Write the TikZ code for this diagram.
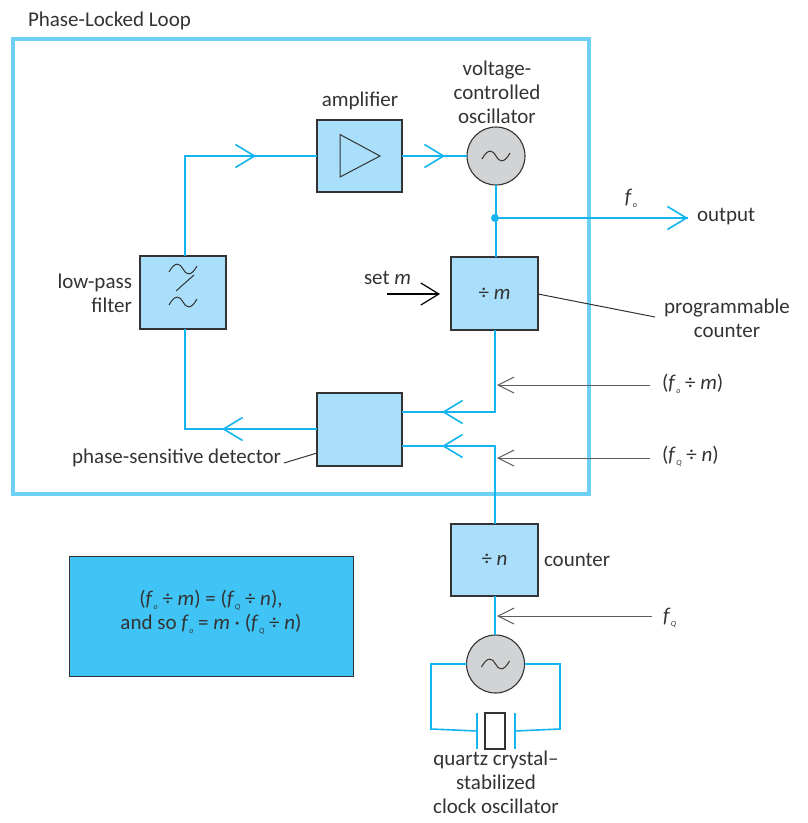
\documentclass[tikz,border=0pt]{standalone}
\usepackage{fontspec}
\setmainfont{Carlito}
\usetikzlibrary{arrows.meta}
\definecolor{wire}{HTML}{14B4EE}
\definecolor{frameblue}{HTML}{6FD0F6}
\definecolor{boxblue}{HTML}{A9DFFB}
\definecolor{infoblue}{HTML}{40C4F5}
\definecolor{disc}{HTML}{D1D3D4}
\definecolor{ink}{HTML}{333333}
\newcommand{\fo}{\textit{f}\kern0.5pt\raisebox{-4pt}{\footnotesize\textit{o}}}
\newcommand{\fQ}{\textit{f}\kern0.5pt\raisebox{-4pt}{\footnotesize\textit{Q}}}
\tikzset{
  x=1pt,y=-1pt,
  every node/.style={font=\fontsize{21}{24}\selectfont,text=ink,inner sep=0pt,outer sep=0pt},
  blockbox/.style={draw=ink,fill=boxblue,line width=1.1pt,anchor=north west},
  osc/.style={circle,draw=ink,fill=disc,line width=1.1pt,minimum size=58pt},
  wireline/.style={draw=wire,line width=1.6pt},
  wirearrow/.style={wireline,-{Straight Barb[length=19pt,width=23pt,line width=1.6pt]}},
  grayline/.style={draw=ink!80,line width=1pt,-{Straight Barb[length=16pt,width=16pt,line width=1pt]}},
  thinline/.style={draw=ink,line width=1pt},
  symline/.style={draw=ink,line width=1pt},
  wave/.pic={\draw[symline] (-14,3) .. controls (-8,-8) and (-3,-6) .. (0,0) .. controls (3,6) and (8,8) .. (14,-3);},
  lbl/.style={align=center}
}
\begin{document}
\begin{tikzpicture}
\useasboundingbox (0,0) rectangle (807,823);
\draw[frameblue,line width=4pt] (13,39) rectangle (589,494);
\node[anchor=west] (title) at (28,21) {Phase-Locked Loop};

% blocks
\node[blockbox,minimum width=85pt,minimum height=72pt] (amp) at (317,120) {};
\node[osc] (vco) at (496,156) {};
\node[blockbox,minimum width=86pt,minimum height=73pt] (lpf) at (140,256) {};
\node[blockbox,minimum width=87pt,minimum height=73pt] (divm) at (451,257) {\hspace*{0pt}};
\node[blockbox,minimum width=85pt,minimum height=73pt] (psd) at (317,393) {};
\node[blockbox,minimum width=87pt,minimum height=72pt] (divn) at (451,524) {};
\node[osc] (clock) at (495.5,664) {};
\draw[draw=ink,fill=infoblue,line width=1pt] (69,556) rectangle (353,676);
\node[draw=ink,line width=1.1pt,fill=white,minimum width=20pt,minimum height=36pt] (xtal) at (495,731) {};
\node at (divm.center) {÷ \textit{m}};
\node at (divn.center) {÷ \textit{n}};

% coordinates
\coordinate (lt) at (185,156);
\coordinate (lb) at (185,429);
\coordinate (tip1) at (256,156);
\coordinate (tip2) at (445,156);
\coordinate (tip3) at (222,429);
\coordinate (tap) at (495,218);
\coordinate (outtip) at (688,218);
\coordinate (cornerm) at (495,412);
\coordinate (cornern) at (495,446);
\coordinate (tip4) at (442,412);
\coordinate (tip5) at (442,446);
\coordinate (pl) at (477,731);
\coordinate (pr) at (515,731);
\coordinate (cl) at (431,664);
\coordinate (cb) at (431,729);
\coordinate (dr) at (560,664);
\coordinate (db) at (560,729);

% wires
\draw[wireline] (lpf.north -| lt) -- (lt) -- (amp.west);
\draw[wirearrow] (lt) -- (tip1);
\draw[wireline] (amp.east) -- (vco.west);
\draw[wirearrow] (amp.east) -- (tip2);
\draw[wireline] (vco.south) -- (divm.north -| vco.south);
\draw[wireline] (tap) -- (outtip);
\draw[wirearrow] (tap) -- (outtip);
\fill[wire] (tap) circle (4pt);
\draw[wireline] (divm.south -| tap) -- (cornerm) -- (psd.east |- cornerm);
\draw[wirearrow] (cornerm) -- (tip4);
\draw[wireline] (divn.north -| tap) -- (cornern) -- (psd.east |- cornern);
\draw[wirearrow] (cornern) -- (tip5);
\draw[wireline] (lpf.south -| lb) -- (lb) -- (psd.west |- lb);
\draw[wirearrow] (psd.west |- lb) -- (tip3);
\draw[wireline] (divn.south -| tap) -- (clock.north -| tap);
\draw[wireline] (clock.west) -- (cl) -- (cb) -- (pl);
\draw[wireline] (clock.east) -- (dr) -- (db) -- (pr);
\draw[wireline] (477,713) -- (477,749);
\draw[wireline] (515,713) -- (515,749);

% amplifier triangle and wave symbols
\draw[symline] (340,134.5) -- (380,156) -- (340,177) -- cycle;
\pic at (vco.center) {wave};
\pic at (clock.center) {wave};
\pic at (183,269) {wave};
\pic at (183,302) {wave};
\draw[symline] (176,291) -- (194,275);

% gray pointers
\coordinate (gm) at (497,385);
\coordinate (gn) at (497,458);
\coordinate (gq) at (497,616);
\node[anchor=west] (lfm) at (662,384) {(\fo{} ÷ \textit{m})};
\node[anchor=west] (lfn) at (662,456) {(\fQ{} ÷ \textit{n})};
\node[anchor=west] (lfq) at (663,618) {\fQ};
\draw[grayline] (lfm.west |- gm) ++(-12,0) -- (gm);
\draw[grayline] (lfn.west |- gn) ++(-12,0) -- (gn);
\draw[grayline] (lfq.west |- gq) ++(-11,0) -- (gq);

% set m
\node[anchor=west] (setm) at (364,278) {set \textit{m}};
\coordinate (setfrom) at (387,294);
\coordinate (settip) at (440,294);
\draw[draw=black,line width=1.2pt,-{Straight Barb[length=18pt,width=22pt,line width=1.2pt]}] (setfrom) -- (settip);

% labels
\node[lbl] (lamp) at (360,101) {amplifier};
\node[lbl,anchor=south] (lvco) at (497,124) {voltage-\\controlled\\oscillator};
\node[anchor=west] (lout) at (697,217) {output};
\node (lfo) at (631,198) {\fo};
\node[align=right,anchor=east] (llpf) at (132,293) {low-pass\\filter};
\node[align=center] (lprog) at (727,318) {programmable\\counter};
\node[anchor=east] (lpsd) at (281,458) {phase-sensitive detector};
\node[anchor=west] (lcnt) at (544,560) {counter};
\node[lbl,anchor=north] (lq) at (496,751) {quartz crystal–\\stabilized\\clock oscillator};
\node[lbl] (info) at (211,612) {(\fo{} ÷ \textit{m}) = (\fQ{} ÷ \textit{n}),\\and so \fo{} = \textit{m} · (\fQ{} ÷ \textit{n})};

% leaders
\coordinate (lead1) at (655,317);
\coordinate (lead2) at (284,463);
\draw[thinline] (538,294) -- (lead1);
\draw[thinline] (lead2) -- (317,453);
\end{tikzpicture}
\end{document}
